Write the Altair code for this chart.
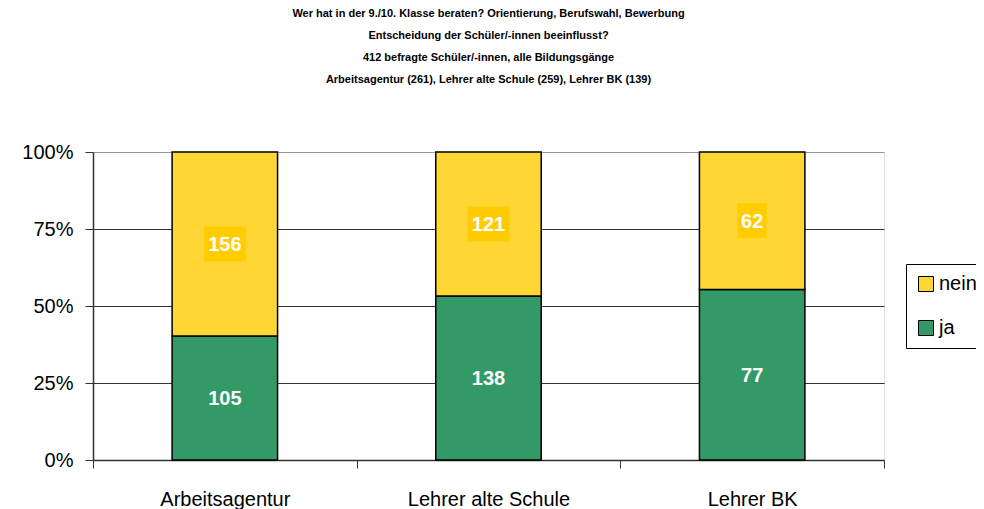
import altair as alt
import pandas as pd

categories = ["Arbeitsagentur", "Lehrer alte Schule", "Lehrer BK"]
ja = [105, 138, 77]
nein = [156, 121, 62]
title_lines = [
    "Wer hat in der 9./10. Klasse beraten? Orientierung, Berufswahl, Bewerbung",
    "Entscheidung der Schüler/-innen beeinflusst?",
    "412 befragte Schüler/-innen, alle Bildungsgänge",
    "Arbeitsagentur (261), Lehrer alte Schule (259), Lehrer BK (139)",
]

rows = []
for c, j, n in zip(categories, ja, nein):
    tot = j + n
    rows.append({"kat": c, "antwort": "ja", "wert": j, "ord": 0,
                 "mid": j / tot / 2, "digits": str(len(str(j)))})
    rows.append({"kat": c, "antwort": "nein", "wert": n, "ord": 1,
                 "mid": j / tot + n / tot / 2, "digits": str(len(str(n)))})
df = pd.DataFrame(rows)

FONT = "Liberation Sans"

x_enc = alt.X("kat:N", sort=categories, title=None,
              scale=alt.Scale(paddingInner=0, paddingOuter=0),
              axis=alt.Axis(tickBand="extent", labelAngle=0, labelFontSize=20,
                            labelColor="black", labelFont=FONT, labelPadding=21,
                            tickColor="#333333", tickSize=8, domainColor="#333333",
                            domainWidth=1.5, grid=False))

bars = alt.Chart(df).mark_bar(width={"band": 0.4}, stroke="black", strokeWidth=1.5).encode(
    x=x_enc,
    y=alt.Y("wert:Q", stack="normalize", title=None,
            scale=alt.Scale(domain=[0, 1]),
            axis=alt.Axis(values=[0, 0.25, 0.5, 0.75, 1], format="%",
                          labelFontSize=20, labelColor="black", labelFont=FONT,
                          labelPadding=12, tickColor="#333333", tickSize=8,
                          domainColor="#333333", domainWidth=1.5,
                          gridColor={"condition": {"test": "datum.value >= 1", "value": "#999999"},
                                     "value": "#333333"},
                          gridWidth=1)),
    color=alt.Color("antwort:N",
                    scale=alt.Scale(domain=["nein", "ja"], range=["#FFD633", "#339966"]),
                    legend=alt.Legend(title=None, orient="none", legendX=813, legendY=112,
                                      symbolType="square", symbolSize=225,
                                      symbolStrokeColor="black", symbolStrokeWidth=1,
                                      labelFontSize=20, labelFont=FONT, labelColor="black",
                                      labelOffset=3, rowPadding=24, padding=10,
                                      strokeColor="black", fillColor="white")),
    order=alt.Order("ord:Q"),
)

boxes = alt.Chart(df).transform_filter("datum.antwort == 'nein'").mark_point(
    filled=True, opacity=1, size=1764, color="#FFCC00", strokeWidth=0
).encode(
    x=alt.X("kat:N", sort=categories),
    y=alt.Y("mid:Q"),
    shape=alt.Shape("digits:N", legend=None,
                    scale=alt.Scale(domain=["2", "3"],
                                    range=["M-0.69,-0.83H0.69V0.83H-0.69Z",
                                           "M-1,-0.83H1V0.83H-1Z"])),
)

labels = alt.Chart(df).mark_text(
    color="white", fontSize=20, fontWeight="bold", font=FONT, baseline="middle", dy=1
).encode(
    x=alt.X("kat:N", sort=categories),
    y=alt.Y("mid:Q"),
    text=alt.Text("wert:Q"),
)

chart = alt.layer(bars, boxes, labels).properties(
    width=791, height=308,
    title=alt.TitleParams(text=title_lines, fontSize=11, fontWeight="bold", font=FONT,
                          color="black", anchor="middle", offset=57, lineHeight=22),
    autosize=alt.AutoSizeParams(type="none"),
    padding={"left": 85, "top": 144, "right": 92, "bottom": 49},
).configure_view(stroke="#999999", strokeWidth=1.5).configure(background="white")

chart.save("out.html", embed_options={"renderer": "svg", "actions": False})
